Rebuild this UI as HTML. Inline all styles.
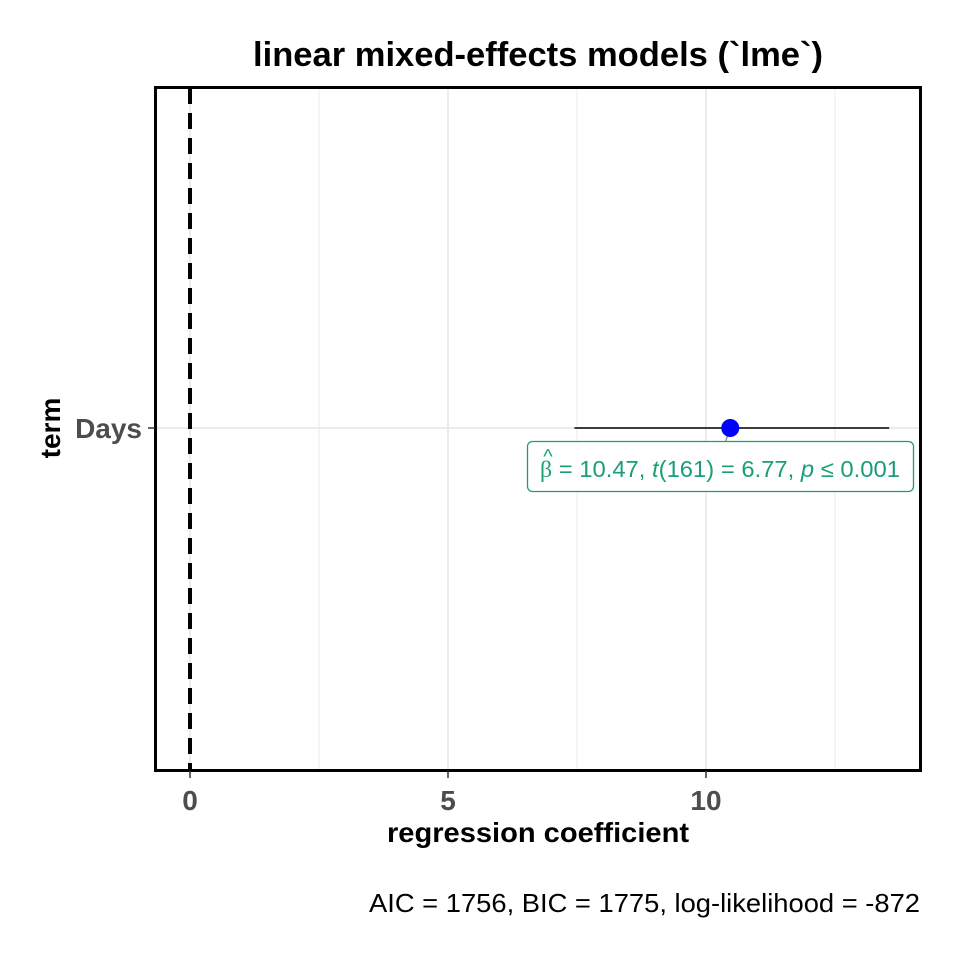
<!DOCTYPE html>
<html><head><meta charset="utf-8"><style>
body{margin:0;background:#fff}
svg{display:block;font-family:"Liberation Sans",sans-serif}
</style></head><body>
<svg id="c" width="960" height="960">
<text x="538" y="66" text-anchor="middle" font-size="34" font-weight="bold" textLength="570" lengthAdjust="spacingAndGlyphs">linear mixed-effects models (`lme`)</text>
<g id="grid"></g>
<g id="marks"></g>
<rect x="155.5" y="87.5" width="765" height="683" fill="none" stroke="#000" stroke-width="3"/>
<g id="axes"></g>
<text x="538" y="842" text-anchor="middle" font-size="28" font-weight="bold" textLength="302" lengthAdjust="spacingAndGlyphs">regression coefficient</text>
<text transform="translate(60,428) rotate(-90)" text-anchor="middle" font-size="28" font-weight="bold">term</text>
<text x="920" y="912" text-anchor="end" font-size="26" textLength="551" lengthAdjust="spacingAndGlyphs">AIC = 1756, BIC = 1775, log-likelihood = -872</text>
</svg>
<script>
const terms=["Days"];
const estimates=[10.47];
const ciLow=[7.45];
const ciHigh=[13.55];
const xTicks=[0,5,10];
const xMinor=[2.5,7.5,12.5];
const NS="http://www.w3.org/2000/svg";
const x=v=>190+v*51.6;
const y=i=>428+i*100;
function mk(p,t,a){const e=document.createElementNS(NS,t);for(const k in a)e.setAttribute(k,a[k]);p.appendChild(e);return e;}
const g=document.getElementById('grid'),m=document.getElementById('marks'),ax=document.getElementById('axes');
xMinor.forEach(v=>{const l=mk(g,'line',{x1:x(v),x2:x(v),y1:88,y2:770,stroke:'#ebebeb','stroke-width':1});

});
xTicks.forEach(v=>{const l=mk(g,'line',{x1:x(v),x2:x(v),y1:88,y2:770,stroke:'#e6e6e6','stroke-width':1.5});


const t=mk(ax,'line',{x1:x(v),x2:x(v),y1:771,y2:778,stroke:'#333','stroke-width':1.5});


const tx=mk(ax,'text',{x:x(v),y:810,'text-anchor':'middle','font-size':28,'font-weight':'bold',fill:'#4d4d4d'});tx.textContent=v;

});
const z=mk(m,'line',{x1:x(0),x2:x(0),y1:88,y2:770,stroke:'#000','stroke-width':4,'stroke-dasharray':'16,9'});


terms.forEach((tm,i)=>{
const hl=mk(g,'line',{x1:156,x2:920,y1:y(i),y2:y(i),stroke:'#e6e6e6','stroke-width':1.5});


const tk=mk(ax,'line',{x1:148,x2:155,y1:y(i),y2:y(i),stroke:'#333','stroke-width':1.5});


const tl=mk(ax,'text',{x:142,y:y(i)+10,'text-anchor':'end','font-size':28,'font-weight':'bold',fill:'#4d4d4d'});tl.textContent=tm;


const ci=mk(m,'line',{x1:x(ciLow[i]),x2:x(ciHigh[i]),y1:y(i),y2:y(i),stroke:'#000','stroke-width':1.6});


const cx=x(estimates[i]);
const sg=mk(m,'line',{x1:cx,y1:y(i),x2:cx-8,y2:y(i)+23,stroke:'#888','stroke-width':1.2});


const pt=mk(m,'circle',{cx:cx,cy:y(i),r:9,fill:'#0000ff'});


const bx=mk(m,'rect',{x:527.5,y:y(i)+13.5,width:386,height:50,rx:5,fill:'#fff',stroke:'#1b9e77','stroke-width':1.3});


const hat=mk(m,'text',{x:548,y:y(i)+35,'text-anchor':'middle','font-size':20,fill:'#1b9e77'});hat.textContent='^';


const lt=mk(m,'text',{x:540,y:y(i)+49,'font-size':23,fill:'#1b9e77',textLength:360,lengthAdjust:'spacingAndGlyphs'});
lt.innerHTML='<tspan font-family="Liberation Serif">β</tspan> = 10.47,  <tspan font-style="italic">t</tspan>(161) = 6.77,  <tspan font-style="italic">p</tspan> ≤ 0.001';


});
</script>
</body></html>
